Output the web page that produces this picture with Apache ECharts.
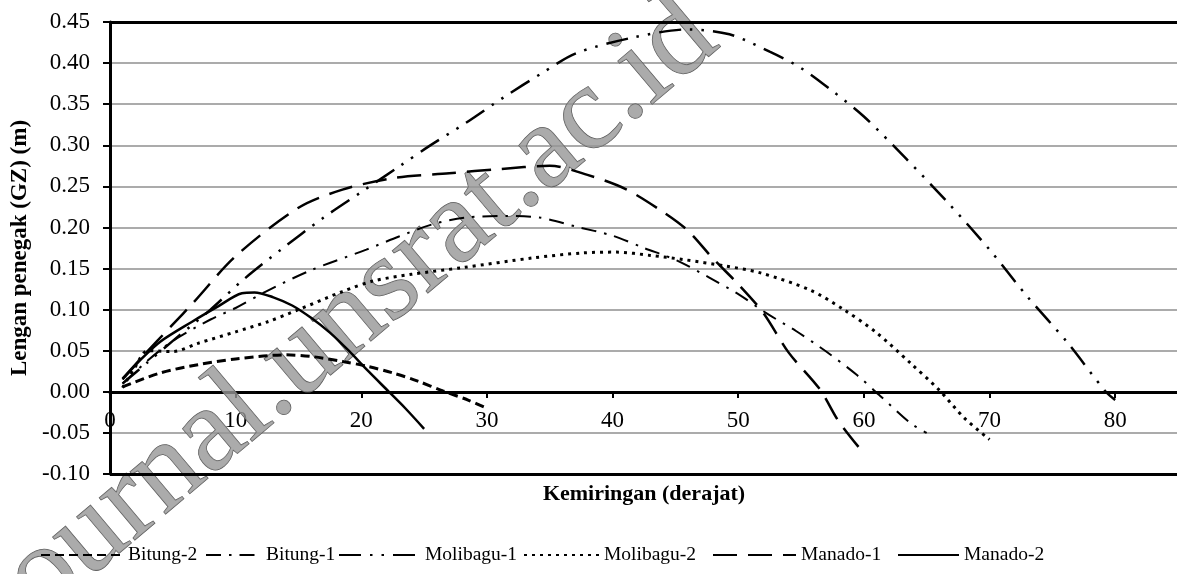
<!DOCTYPE html>
<html>
<head>
<meta charset="utf-8">
<script src="https://cdn.jsdelivr.net/npm/echarts@6/dist/echarts.min.js"></script>
<style>
html,body{margin:0;padding:0;background:#fff;}
#chart{width:1177px;height:574px;}
</style>
</head>
<body>
<div id="chart"></div>
<script>
// ---- data (x = Kemiringan in degrees, y = GZ in m) ----
const seriesNames = ['Bitung-2', 'Bitung-1', 'Molibagu-1', 'Molibagu-2', 'Manado-1', 'Manado-2'];

const bitung2 = [[1,0.006],[4,0.023],[7,0.033],[10,0.040],[14,0.045],[16,0.043],[18.5,0.037],[20.5,0.031],[22.5,0.023],[24.5,0.013],[26.5,0.001],[28.5,-0.010],[30,-0.020]];

const bitung1 = [[1,0.010],[3,0.038],[5,0.062],[8,0.088],[10,0.102],[12.4,0.122],[16,0.148],[20.4,0.173],[23,0.189],[25.7,0.204],[28.3,0.212],[31.5,0.214],[34.2,0.212],[37.1,0.201],[40,0.190],[42.5,0.175],[45.1,0.160],[47.7,0.139],[50.1,0.118],[52.2,0.096],[54.6,0.074],[57,0.049],[59.4,0.021],[61.3,-0.005],[63.7,-0.038],[65,-0.050]];

const molibagu1 = [[1,0.010],[3,0.036],[5,0.062],[8,0.100],[10.5,0.135],[13.6,0.173],[17,0.212],[20,0.243],[23,0.274],[25.4,0.299],[28.3,0.327],[31.3,0.358],[34.4,0.388],[37.1,0.412],[41.6,0.431],[46,0.441],[49.3,0.435],[52.5,0.414],[55,0.394],[57.5,0.366],[60,0.335],[63.4,0.283],[66.7,0.230],[70,0.173],[73,0.116],[76.2,0.060],[79.2,0.001],[80,-0.010]];

const molibagu2 = [[1,0.005],[2,0.030],[3,0.050],[5,0.049],[7,0.059],[10,0.073],[12.5,0.085],[15,0.100],[18.5,0.122],[21,0.135],[24,0.143],[28,0.151],[33.7,0.163],[37.6,0.169],[40.3,0.170],[43,0.166],[45.6,0.161],[49,0.153],[51.7,0.145],[55.7,0.124],[58.4,0.100],[61,0.072],[63.7,0.035],[66,0.002],[68,-0.032],[70,-0.058]];

const manado1 = [[1,0.016],[2.6,0.043],[5,0.082],[6.6,0.108],[10,0.165],[15,0.224],[18.5,0.246],[22.5,0.260],[27,0.266],[31,0.271],[35,0.275],[38,0.264],[41,0.247],[44,0.219],[46,0.196],[48,0.162],[50,0.131],[52,0.096],[54,0.048],[56.5,0.003],[58,-0.036],[60,-0.075]];

const manado2 = [[1,0.015],[2.5,0.040],[4,0.061],[6.5,0.085],[8.5,0.103],[10.5,0.120],[11.5,0.121],[13,0.115],[14.5,0.105],[16,0.090],[17.5,0.072],[19,0.050],[20.5,0.026],[22.2,0.000],[23.5,-0.020],[25,-0.045]];

const xTicks = [0,10,20,30,40,50,60,70,80];
const yTicks = [-0.10,-0.05,0.00,0.05,0.10,0.15,0.20,0.25,0.30,0.35,0.40,0.45];

// ---- styles / layout ----
const FONT = '"Liberation Serif", "Times New Roman", serif';
const styles = [
  {width:3,   type:[9,5]},
  {width:2,   type:[15,8,2.5,8]},
  {width:2.5, type:[22,9,2.5,9,2.5,9]},
  {width:3,   type:[3,5]},
  {width:2.5, type:[24,11]},
  {width:2.5, type:'solid'}
];
// legend sample placement (icon left edge, icon width)
const legendPos = [[40,82],[205,55],[338,81],[523,75],[712,83],[897,61]];

const allData = [bitung2, bitung1, molibagu1, molibagu2, manado1, manado2];

const series = allData.map((d, i) => ({
  name: seriesNames[i],
  type: 'line',
  data: d,
  smooth: 0.3,
  symbol: 'none',
  showSymbol: false,
  lineStyle: {color:'#000', width: styles[i].width, type: styles[i].type, cap:'butt'},
  itemStyle: {color:'#000'},
  z: 3
}));
series[5].markLine = {
  silent: true, symbol: ['none','none'], animation: false,
  label: {show:false},
  lineStyle: {color:'#000', width:3, type:'solid'},
  data: [{yAxis: yTicks[yTicks.length-1]}, {yAxis: yTicks[0]}]
};

const legends = seriesNames.map((n, i) => ({
  data: [n], left: legendPos[i][0], top: 545, padding: 0,
  itemWidth: legendPos[i][1], itemHeight: 14, itemGap: 0,
  itemStyle: {opacity: 0},
  selectedMode: false,
  textStyle: {fontSize:19.5, fontFamily:FONT, color:'#000'}
}));

const splitColors = yTicks.map((v, i) => (i === 0 || i === yTicks.length-1 || Math.abs(v) < 1e-9) ? '#000' : '#8f8f8f');

const chart = echarts.init(document.getElementById('chart'), null, {renderer:'canvas'});
chart.setOption({
  animation: false,
  backgroundColor: '#fff',
  textStyle: {fontFamily: FONT},
  grid: {left:110, right:-1, top:22, bottom:100, containLabel:false, outerBoundsMode:'none'},
  xAxis: {
    type:'value', min:0, max:85, interval:10,
    offset: -82,
    axisLine: {onZero:false, lineStyle:{color:'#000', width:3}},
    axisTick: {show:true, length:6, lineStyle:{color:'#000', width:2}},
    axisLabel: {margin:17, fontSize:23, fontFamily:FONT, color:'#000',
      formatter: v => xTicks.indexOf(v) >= 0 ? String(v) : ''},
    splitLine: {show:false},
    name: 'Kemiringan (derajat)', nameLocation:'middle', nameGap:91,
    nameTextStyle: {fontSize:22, fontWeight:'bold', fontFamily:FONT, color:'#000'}
  },
  yAxis: {
    type:'value', min:yTicks[0], max:yTicks[yTicks.length-1], interval:0.05,
    axisLine: {show:true, onZero:false, lineStyle:{color:'#000', width:3}},
    axisTick: {show:true, length:7, lineStyle:{color:'#000', width:2}},
    axisLabel: {margin:20, fontSize:23, fontFamily:FONT, color:'#000',
      formatter: v => (Math.abs(v) < 1e-9 ? 0 : v).toFixed(2)},
    splitLine: {show:true, lineStyle:{color:splitColors, width:1.5}},
    name: 'Lengan penegak (GZ) (m)', nameLocation:'middle', nameGap:78, nameRotate:90,
    nameTextStyle: {fontSize:23, fontWeight:'bold', fontFamily:FONT, color:'#000'}
  },
  legend: legends,
  graphic: [{
    type:'text', x: 328, y: 336, rotation: 0.70, z: 1, silent:true,
    style: {text:'ejournal.unsrat.ac.id', fontSize:120, fontFamily:FONT,
      fill:'rgba(150,150,150,0.8)', stroke:'#555', lineWidth:1,
      align:'center', verticalAlign:'middle', textAlign:'center', textVerticalAlign:'middle'}
  }],
  series: series
});
</script>
</body>
</html>
